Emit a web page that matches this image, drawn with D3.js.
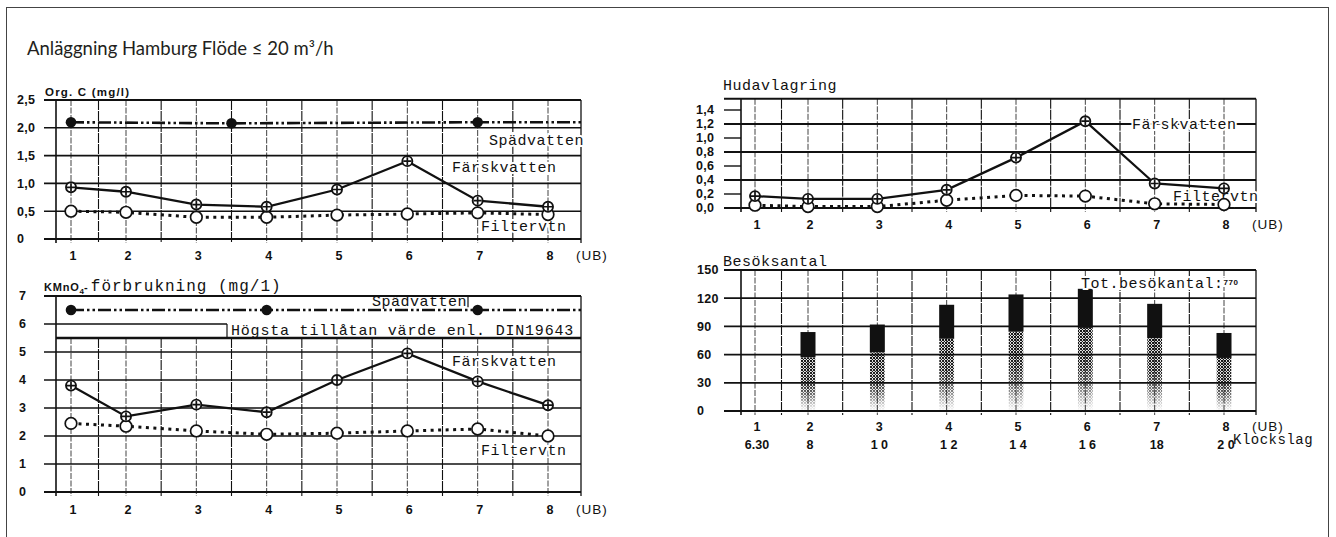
<!DOCTYPE html>
<html><head><meta charset="utf-8">
<script src="https://cdn.jsdelivr.net/npm/d3@7"></script>
<style>body{margin:0;background:#fff}svg{display:block}</style>
</head><body><svg id="c"></svg>
<script>
// ---------- DATA ----------
const ubCats = [1,2,3,4,5,6,7,8];
const gridSteps = [1,1.5,2,2.5,3,3.5,4,4.5,5,5.5,6,6.5,7,7.5,8];

const orgTicks = [0,0.5,1,1.5,2,2.5];
const orgTickLabels = ["0","0,5","1,0","1,5","2,0","2,5"];
const orgFarsk = [0.93,0.85,0.62,0.58,0.89,1.40,0.69,0.58];
const orgFilter = [0.50,0.48,0.39,0.39,0.43,0.45,0.47,0.44];
const orgSpadUB = [1,3.5,7];
const orgSpad = [2.10,2.08,2.10];

const kmnTicks = [0,1,2,3,4,5,6,7];
const kmnTickLabels = ["0","1","2","3","4","5","6","7"];
const kmnFarsk = [3.8,2.7,3.12,2.85,4.0,4.95,3.95,3.1];
const kmnFilter = [2.45,2.35,2.18,2.06,2.1,2.18,2.25,2.0];
const kmnSpadUB = [1,4,7];
const kmnSpad = [6.5,6.5,6.5];
const kmnLimit = 5.5;

const hudTicks = [0,0.2,0.4,0.6,0.8,1.0,1.2,1.4];
const hudTickLabels = ["0,0","0,2","0,4","0,6","0,8","1,0","1,2","1,4"];
const hudFarsk = [0.17,0.13,0.13,0.26,0.72,1.24,0.35,0.28];
const hudFilter = [0.04,0.02,0.02,0.11,0.18,0.17,0.06,0.05];

const besokTicks = [0,30,60,90,120,150];
const besokUB = [2,3,4,5,6,7,8];
const besok = [84,92,113,124,130,114,83];
const klockslag = ["6.30","8","1 0","1 2","1 4","1 6","18","2 0"];
const totBesok = "770";

// ---------- SETUP ----------
const svg = d3.select('#c').attr('width',1336).attr('height',537);
const INK = '#111';
const SANS = '"Liberation Sans", Arial, sans-serif';
const MONO = '"Liberation Mono", "Courier New", monospace';

const defs = svg.append('defs');
const pat = defs.append('pattern').attr('id','dots').attr('patternUnits','userSpaceOnUse')
  .attr('width',3).attr('height',3);
pat.append('circle').attr('cx',1).attr('cy',1).attr('r',1.25).attr('fill',INK);
pat.append('circle').attr('cx',2.5).attr('cy',2.5).attr('r',0.7).attr('fill',INK);
const fg = defs.append('linearGradient').attr('id','fadeGrad')
  .attr('x1',0).attr('y1',0).attr('x2',0).attr('y2',1);
[[0,'#fff'],[0.45,'#eee'],[0.7,'#999'],[0.85,'#444'],[1,'#000']].forEach(s=>fg.append('stop').attr('offset',s[0]).attr('stop-color',s[1]));
defs.append('mask').attr('id','fade').attr('maskContentUnits','objectBoundingBox')
  .append('rect').attr('width',1).attr('height',1).attr('fill','url(#fadeGrad)');

// outer frame
svg.append('rect').attr('x',6.5).attr('y',7.5).attr('width',1322).attr('height',600)
  .attr('fill','none').attr('stroke','#444').attr('stroke-width',1);

svg.append('text').attr('x',27).attr('y',55)
  .attr('font-family','Lato, "Noto Sans", sans-serif').attr('font-size',18.5).attr('fill','#231f20')
  .text('Anläggning Hamburg Flöde ≤ 20 m³/h');

const xL = d3.scaleLinear().domain([1,2,8]).range([71,126,548]);
const xR = d3.scaleLinear().domain([1,2,8]).range([755,808,1224]);
const yA = d3.scaleLinear().domain([0,2.5]).range([239,100]);
const yB = d3.scaleLinear().domain([0,7]).range([492,296]);
const yC = d3.scaleLinear().domain([0,1.4]).range([208,110]);
const yD = d3.scaleLinear().domain([0,150]).range([411,270]);

// ---------- HELPERS ----------
function vGrid(g, x, top, bottom) {
  g.append('g').selectAll('line').data(gridSteps).join('line')
    .attr('x1',d=>x(d)).attr('x2',d=>x(d)).attr('y1',top).attr('y2',bottom+4)
    .attr('stroke',INK).attr('stroke-width',d=>Number.isInteger(d)?0.8:1.1)
    .attr('stroke-dasharray',d=>Number.isInteger(d)?'6,1.5':'10,1');
}
function hLines(g, y, vals, x1, x2, w) {
  g.append('g').selectAll('line').data(vals).join('line')
    .attr('x1',x1).attr('x2',x2).attr('y1',d=>y(d)).attr('y2',d=>y(d))
    .attr('stroke',INK).attr('stroke-width',w);
}
function border(g, left, right, top, bottom) {
  g.append('line').attr('x1',left).attr('x2',left).attr('y1',top).attr('y2',bottom+4)
    .attr('stroke',INK).attr('stroke-width',1.6);
  g.append('line').attr('x1',right).attr('x2',right).attr('y1',top).attr('y2',bottom+4)
    .attr('stroke',INK).attr('stroke-width',1.3);
}
function yLabels(g, y, vals, labels, xLeft) {
  g.append('g').selectAll('text').data(vals).join('text')
    .attr('x',xLeft).attr('y',d=>y(d)).attr('dy','0.35em')
    .attr('font-family',SANS).attr('font-size',12.5).attr('font-weight','bold').attr('fill',INK)
    .attr('letter-spacing',0.3)
    .text((d,i)=>labels[i]);
}
function xLabels(g, x, yPos, ubX) {
  g.append('g').selectAll('text').data(ubCats).join('text')
    .attr('x',d=>x(d)+2).attr('y',yPos).attr('text-anchor','middle')
    .attr('font-family',SANS).attr('font-size',12.5).attr('font-weight','bold').attr('fill',INK)
    .text(d=>d);
  g.append('text').attr('x',ubX).attr('y',yPos)
    .attr('font-family',SANS).attr('font-size',13.5).attr('fill',INK).attr('letter-spacing',1)
    .text('(UB)');
}
function mono(g, x, y, s, size, halo) {
  const t = g.append('text').attr('x',x).attr('y',y)
    .attr('font-family',MONO).attr('font-size',size||15).attr('fill',INK)
    .attr('letter-spacing',0.5).text(s);
  if (halo!==false) t.attr('stroke','#fff').attr('stroke-width',4).attr('paint-order','stroke');
  return t;
}
function farsk(g, x, y, vals) {
  g.append('path').datum(vals)
    .attr('d',d3.line().x((d,i)=>x(ubCats[i])).y(d=>y(d)))
    .attr('fill','none').attr('stroke',INK).attr('stroke-width',2.3);
  const m = g.append('g').selectAll('g').data(vals).join('g')
    .attr('transform',(d,i)=>`translate(${x(ubCats[i])},${y(d)})`);
  m.append('circle').attr('r',5).attr('fill','#fff').attr('stroke',INK).attr('stroke-width',1.9);
  m.append('path').attr('d','M-4,0H4M0,-4V4').attr('stroke',INK).attr('stroke-width',1.7);
}
function filter(g, x, y, vals) {
  g.append('path').datum(vals)
    .attr('d',d3.line().x((d,i)=>x(ubCats[i])).y(d=>y(d)))
    .attr('fill','none').attr('stroke',INK).attr('stroke-width',3).attr('stroke-dasharray','3,4.5');
  g.append('g').selectAll('circle').data(vals).join('circle')
    .attr('cx',(d,i)=>x(ubCats[i])).attr('cy',d=>y(d)).attr('r',5.8)
    .attr('fill','#fff').attr('stroke',INK).attr('stroke-width',1.7);
}
function spad(g, x, y, ubs, vals, rightPx) {
  const pts = ubs.map((u,i)=>[x(u),y(vals[i])]);
  pts.push([rightPx, y(vals[vals.length-1])]);
  g.append('path').attr('d',d3.line()(pts))
    .attr('fill','none').attr('stroke',INK).attr('stroke-width',2.6)
    .attr('stroke-dasharray','13,3,2.5,3,2.5,3');
  g.append('g').selectAll('circle').data(vals).join('circle')
    .attr('cx',(d,i)=>x(ubs[i])).attr('cy',d=>y(d)).attr('r',5.3).attr('fill',INK);
}

// ---------- PANEL A : Org. C ----------
{
  const g = svg.append('g');
  const L=56, R=581, top=yA(2.5), bot=yA(0);
  vGrid(g, xL, top, bot);
  border(g, L, R, top, bot);
  hLines(g, yA, [0.5,1,1.5,2], 44, R, 1.6);
  hLines(g, yA, [0,2.5], 44, R, 2);
  yLabels(g, yA, orgTicks, orgTickLabels, 17);
  xLabels(g, xL, 260, 576);
  g.append('text').attr('x',45).attr('y',96).attr('font-family',SANS).attr('font-size',11.5)
    .attr('font-weight','bold').attr('fill',INK).attr('letter-spacing',1.2).text('Org. C (mg/l)');
  mono(g, 489, 145, 'Spädvatten');
  mono(g, 452, 172, 'Färskvatten');
  mono(g, 481, 231, 'Filtervtn');
  filter(g, xL, yA, orgFilter);
  farsk(g, xL, yA, orgFarsk);
  spad(g, xL, yA, orgSpadUB, orgSpad, R);
}

// ---------- PANEL B : KMnO4 ----------
{
  const g = svg.append('g');
  const L=56, R=581, top=yB(7), bot=yB(0);
  vGrid(g, xL, yB(kmnLimit), bot);
  border(g, L, R, top, bot);
  hLines(g, yB, [1,2,3,4,5], 44, R, 1.6);
  hLines(g, yB, [0,7], 44, R, 2);
  hLines(g, yB, [6], 44, 227, 1.6);
  hLines(g, yB, [kmnLimit], L, R, 2.6);
  g.append('line').attr('x1',227).attr('x2',227).attr('y1',yB(6)).attr('y2',yB(kmnLimit))
    .attr('stroke',INK).attr('stroke-width',1.2);
  g.append('line').attr('x1',468).attr('x2',468).attr('y1',yB(7)).attr('y2',yB(6.6))
    .attr('stroke',INK).attr('stroke-width',1.2);
  yLabels(g, yB, kmnTicks, kmnTickLabels, 19);
  xLabels(g, xL, 514, 576);
  const t = g.append('text').attr('x',44).attr('y',291).attr('fill',INK);
  t.append('tspan').attr('font-family',SANS).attr('font-size',11).attr('font-weight','bold').attr('letter-spacing',0.8).text('KMnO');
  t.append('tspan').attr('font-family',SANS).attr('font-size',8).attr('font-weight','bold').attr('dy',3).text('4');
  t.append('tspan').attr('font-family',SANS).attr('font-size',11).attr('font-weight','bold').attr('dy',-3).text('- ');
  t.append('tspan').attr('font-family',MONO).attr('font-size',16).attr('letter-spacing',1).text('förbrukning (mg/1)');
  mono(g, 372, 306, 'Spädvatten', 15, false);
  mono(g, 231, 335, 'Högsta tillåtan värde enl. DIN19643', 15, false).attr('letter-spacing',0.8);
  mono(g, 452, 366, 'Färskvatten');
  mono(g, 481, 455, 'Filtervtn');
  filter(g, xL, yB, kmnFilter);
  farsk(g, xL, yB, kmnFarsk);
  spad(g, xL, yB, kmnSpadUB, kmnSpad, R);
}

// ---------- PANEL C : Hudavlagring ----------
{
  const g = svg.append('g');
  const L=741, R=1256, top=yC(1.56), bot=yC(0);
  vGrid(g, xR, top, bot);
  border(g, L, R, top, bot);
  hLines(g, yC, [0.4,0.8,1.2], 724, R, 1.8);
  hLines(g, yC, [0.2,0.6,1.0,1.4], 724, L, 1.4);
  hLines(g, yC, [0, 1.56], 724, R, 2);
  yLabels(g, yC, hudTicks, hudTickLabels, 696);
  xLabels(g, xR, 229, 1252);
  mono(g, 723, 90, 'Hudavlagring', 15, false);
  mono(g, 1132, 129, 'Färskvatten');
  mono(g, 1173, 201, 'Filtervtn');
  filter(g, xR, yC, hudFilter);
  farsk(g, xR, yC, hudFarsk);
}

// ---------- PANEL D : Besöksantal ----------
{
  const g = svg.append('g');
  const L=741, R=1256, top=yD(150), bot=yD(0);
  vGrid(g, xR, top, bot);
  border(g, L, R, top, bot);
  hLines(g, yD, [30,60,90,120], 724, R, 1.8);
  hLines(g, yD, [0,150], 724, R, 2);
  yLabels(g, yD, besokTicks, besokTicks.map(String), 697);
  const bw = 15;
  const bars = g.append('g').selectAll('g').data(besok).join('g');
  bars.append('rect')
    .attr('x',(d,i)=>xR(besokUB[i])-bw/2).attr('width',bw)
    .attr('y',d=>yD(d*0.68)).attr('height',d=>yD(0)-yD(d*0.68))
    .attr('fill','url(#dots)').attr('mask','url(#fade)');
  bars.append('rect')
    .attr('x',(d,i)=>xR(besokUB[i])-bw/2).attr('width',bw)
    .attr('y',d=>yD(d)).attr('height',d=>yD(d*0.68)-yD(d))
    .attr('fill',INK);
  xLabels(g, xR, 431, 1252);
  g.append('g').selectAll('text').data(klockslag).join('text')
    .attr('x',(d,i)=>xR(ubCats[i])+2).attr('y',449).attr('text-anchor','middle')
    .attr('font-family',SANS).attr('font-size',12.5).attr('font-weight','bold').attr('fill',INK)
    .text(d=>d);
  mono(g, 1233, 444, 'Klockslag', 14, false);
  mono(g, 723, 266, 'Besöksantal', 15, false);
  const tb = mono(g, 1081, 288, 'Tot.besökantal:', 15);
  tb.append('tspan').attr('font-size',8).attr('font-family',SANS).attr('font-weight','bold')
    .attr('dy',-3).text(totBesok);
}
</script></body></html>
